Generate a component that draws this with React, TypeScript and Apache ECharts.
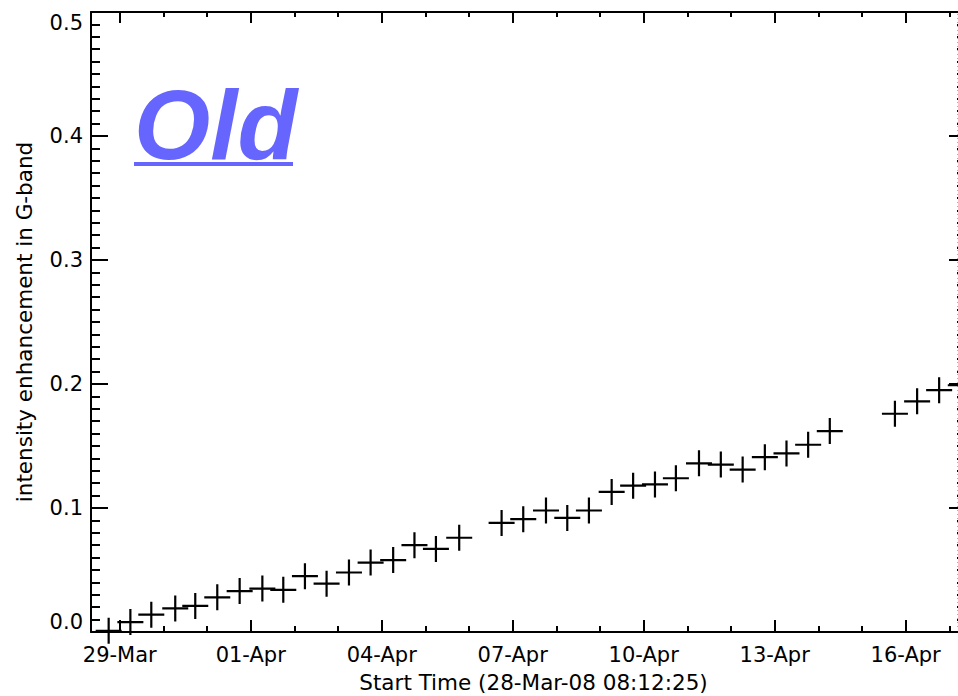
import React, { useEffect, useRef } from "react";
import * as echarts from "echarts";

// ---------- data ----------
const START_TIME = "2008-03-28T08:12:25Z";
const END_TIME = "2008-04-17T09:10:00Z";

const obsTimes = [
  "2008-03-28T17:55:00Z", "2008-03-29T05:51:00Z", "2008-03-29T17:21:00Z", "2008-03-30T06:31:00Z",
  "2008-03-30T17:31:00Z", "2008-03-31T05:37:00Z", "2008-03-31T17:55:00Z", "2008-04-01T06:24:00Z",
  "2008-04-01T17:54:00Z", "2008-04-02T05:48:00Z", "2008-04-02T17:42:00Z", "2008-04-03T06:00:00Z",
  "2008-04-03T17:54:00Z", "2008-04-04T06:18:00Z", "2008-04-04T18:00:00Z", "2008-04-05T05:48:00Z",
  "2008-04-05T18:36:00Z", "2008-04-06T17:54:00Z", "2008-04-07T05:48:00Z", "2008-04-07T18:18:00Z",
  "2008-04-08T06:00:00Z", "2008-04-08T17:54:00Z", "2008-04-09T06:24:00Z", "2008-04-09T18:12:00Z",
  "2008-04-10T06:12:00Z", "2008-04-10T17:42:00Z", "2008-04-11T06:24:00Z", "2008-04-11T18:24:00Z",
  "2008-04-12T06:24:00Z", "2008-04-12T18:36:00Z", "2008-04-13T06:30:00Z", "2008-04-13T18:24:00Z",
  "2008-04-14T06:18:00Z", "2008-04-15T18:06:00Z", "2008-04-16T06:18:00Z", "2008-04-16T18:24:00Z",
  "2008-04-17T06:18:00Z",
];

const enhancement = [
  0.001, 0.008, 0.014, 0.019,
  0.021, 0.028, 0.033, 0.035,
  0.034, 0.045, 0.039, 0.048,
  0.056, 0.058, 0.070, 0.067,
  0.076, 0.088, 0.091, 0.098,
  0.092, 0.098, 0.113, 0.118,
  0.119, 0.124, 0.136, 0.135,
  0.131, 0.141, 0.144, 0.151,
  0.162, 0.176, 0.186, 0.195,
  0.199,
];

const majorTickDates = [
  "2008-03-29T00:00:00Z", "2008-04-01T00:00:00Z", "2008-04-04T00:00:00Z", "2008-04-07T00:00:00Z",
  "2008-04-10T00:00:00Z", "2008-04-13T00:00:00Z", "2008-04-16T00:00:00Z",
];
const majorTickLabels = ["29-Mar", "01-Apr", "04-Apr", "07-Apr", "10-Apr", "13-Apr", "16-Apr"];

const minorTickDates = [
  "2008-03-30T00:00:00Z", "2008-03-31T00:00:00Z", "2008-04-02T00:00:00Z", "2008-04-03T00:00:00Z",
  "2008-04-05T00:00:00Z", "2008-04-06T00:00:00Z", "2008-04-08T00:00:00Z", "2008-04-09T00:00:00Z",
  "2008-04-11T00:00:00Z", "2008-04-12T00:00:00Z", "2008-04-14T00:00:00Z", "2008-04-15T00:00:00Z",
  "2008-04-17T00:00:00Z",
];

const yMin = 0;
const yMax = 0.5;
const yStep = 0.1;

const xTitle = "Start Time (28-Mar-08 08:12:25)";
const yTitle = "intensity enhancement in G-band";
const stampText = "Old";

// ---------- component ----------
const FONT = "DejaVu Sans";

export default function App() {
  const ref = useRef<HTMLDivElement>(null);

  useEffect(() => {
    document.body.style.margin = "0";
    if (!ref.current) return;
    const chart = echarts.init(ref.current, undefined, { renderer: "svg" });

    const ms = (s: string) => Date.parse(s);
    const xMin = ms(START_TIME);
    const xMax = ms(END_TIME);
    const majorMs = majorTickDates.map(ms);
    const minorMs = minorTickDates.map(ms);
    const labelMap = new Map<number, string>();
    majorMs.forEach((v, i) => labelMap.set(v, majorTickLabels[i]));

    const data = obsTimes.map((t, i) => [ms(t), enhancement[i]]);

    const axisLineStyle = { color: "#000", width: 2 };
    const tickLineStyle = { color: "#000", width: 2 };

    const baseX = {
      type: "value" as const,
      min: xMin,
      max: xMax,
      splitLine: { show: false },
      gridIndex: 0,
    };

    const baseYTicks = {
      type: "value" as const,
      min: yMin,
      max: yMax,
      interval: yStep,
      splitLine: { show: false },
      minorSplitLine: { show: false },
    };

    chart.setOption({
      animation: false,
      backgroundColor: "#fff",
      grid: {
        left: 91,
        top: 12,
        right: -8,
        bottom: 64,
        containLabel: false,
        outerBoundsMode: "none",
      },
      xAxis: [
        {
          ...baseX,
          position: "bottom",
          axisLine: { show: true, lineStyle: axisLineStyle },
          axisTick: { show: true, inside: true, length: 12, customValues: majorMs, lineStyle: tickLineStyle },
          axisLabel: {
            show: true,
            customValues: majorMs,
            formatter: (v: number) => labelMap.get(v) ?? "",
            fontFamily: FONT,
            fontSize: 21,
            color: "#000",
            margin: 12,
          },
          name: xTitle,
          nameLocation: "middle",
          nameGap: 39,
          nameTextStyle: { fontFamily: FONT, fontSize: 21.5, color: "#000", padding: [0, 0, 0, 10] },
        },
        {
          ...baseX,
          position: "bottom",
          axisLine: { show: false },
          axisTick: { show: true, inside: true, length: 6, customValues: minorMs, lineStyle: tickLineStyle },
          axisLabel: { show: false },
        },
        {
          ...baseX,
          position: "top",
          axisLine: { show: true, lineStyle: axisLineStyle },
          axisTick: { show: true, inside: true, length: 11, customValues: majorMs, lineStyle: tickLineStyle },
          axisLabel: { show: false },
        },
        {
          ...baseX,
          position: "top",
          axisLine: { show: false },
          axisTick: { show: true, inside: true, length: 5, customValues: minorMs, lineStyle: tickLineStyle },
          axisLabel: { show: false },
        },
      ],
      yAxis: [
        {
          ...baseYTicks,
          position: "left",
          axisLine: { show: true, lineStyle: axisLineStyle },
          axisTick: { show: true, inside: true, length: 17, lineStyle: tickLineStyle },
          minorTick: { show: true, splitNumber: 10, length: 9, lineStyle: { color: "#000", width: 2 } },
          axisLabel: {
            show: true,
            formatter: (v: number) => v.toFixed(1),
            fontFamily: FONT,
            fontSize: 21,
            color: "#000",
            margin: 8,
            showMinLabel: true,
            showMaxLabel: true,
            verticalAlignMinLabel: "bottom",
            verticalAlignMaxLabel: "top",
          },
          name: yTitle,
          nameLocation: "middle",
          nameGap: 56,
          nameTextStyle: { fontFamily: FONT, fontSize: 21.5, color: "#000" },
        },
        {
          ...baseYTicks,
          position: "right",
          axisLine: { show: true, lineStyle: axisLineStyle },
          axisTick: { show: true, inside: true, length: 17, lineStyle: tickLineStyle },
          minorTick: { show: true, splitNumber: 10, length: 9, lineStyle: { color: "#000", width: 2 } },
          axisLabel: { show: false },
        },
      ],
      graphic: [
        {
          type: "text",
          left: 134,
          top: 76,
          silent: true,
          style: {
            text: stampText,
            fontFamily: "Liberation Sans",
            fontWeight: "bold",
            fontStyle: "italic",
            fontSize: 98,
            fill: "#6666ff",
          },
        },
        {
          type: "rect",
          silent: true,
          shape: { x: 134, y: 162, width: 159, height: 4 },
          style: { fill: "#6666ff" },
        },
        {
          type: "line",
          silent: true,
          shape: { x1: 957.5, y1: 14, x2: 957.5, y2: 630 },
          style: { stroke: "#b0b0b0", lineWidth: 1, lineDash: [1, 3] },
        },
      ],
      series: [
        {
          type: "scatter",
          name: "G-band enhancement",
          xAxisIndex: 0,
          yAxisIndex: 0,
          data,
          clip: false,
          symbol: "path://M13 0L13 26M0 13L26 13",
          symbolSize: 26,
          itemStyle: { color: "rgba(0,0,0,0)", borderColor: "#000", borderWidth: 2.2, opacity: 1 },
          emphasis: { disabled: true },
          silent: true,
        },
      ],
    });

    return () => chart.dispose();
  }, []);

  return <div ref={ref} style={{ width: 958, height: 696 }} />;
}
